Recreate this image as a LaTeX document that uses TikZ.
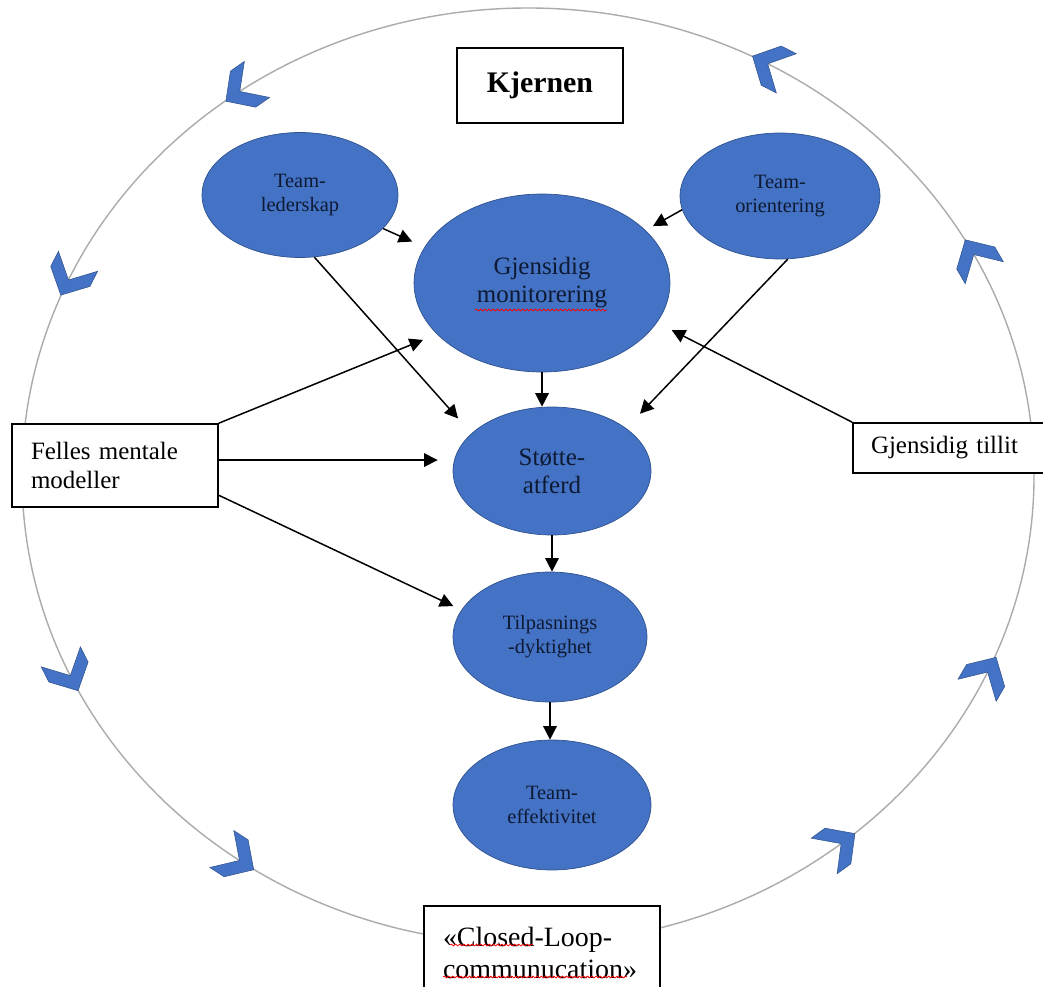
\documentclass[tikz,border=0pt]{standalone}
\usepackage{fontspec}
\setmainfont{Liberation Serif}
\usepackage{tikz}
\usetikzlibrary{shapes.geometric,arrows.meta,decorations.pathmorphing}
\definecolor{ofblue}{HTML}{4472C4}
\definecolor{ofdark}{HTML}{2F528F}
\definecolor{ringgray}{HTML}{ABABAB}
\definecolor{navy}{HTML}{0E1A33}

\begin{document}
\begin{tikzpicture}[x=0.02cm,y=0.02cm]
\tikzstyle{blob}=[ellipse,fill=ofblue,draw=ofdark,line width=0.4pt,inner sep=0pt,text=navy,align=center]
\tikzstyle{smalltext}=[font=\fontsize{11.6}{13.6}\selectfont]
\tikzstyle{bigtext}=[font=\fontsize{14.2}{15.9}\selectfont]
\tikzstyle{labelbox}=[rectangle,draw=black,fill=white,line width=0.9pt,align=left,font=\fontsize{14.2}{16.4}\selectfont]
\tikzstyle{link}=[-{Triangle[length=0.27cm,width=0.27cm]},line width=0.85pt]
\tikzstyle{chevron}=[fill=ofblue,draw=ofdark,line width=0.3pt]
\tikzstyle{spell}=[red,line width=0.45pt,decorate,decoration={snake,amplitude=0.5pt,segment length=2.4pt}]
    \path[use as bounding box] (0,0) rectangle (1043,-986);
    \clip (0,0) rectangle (1043,-986);
    % the loop round the core
    \coordinate (c) at (528,-476);
    \draw[ringgray,line width=0.8pt] (c) ellipse (506 and 468);
    \foreach \t/\r in {28/120,61.5/153,124.5/215,155/243,205/297,235/327,308/36,335/60}
        \filldraw[chevron,shift={(c)},shift={(\t:506 and 468)},rotate=\r] (-19,22) -- (-2,22) -- (19,0) -- (-2,-22) -- (-19,-22) -- (2,0) -- cycle;
    \node[labelbox,align=center,minimum width=3.32cm,minimum height=1.5cm,font=\fontsize{17}{20}\selectfont\bfseries] (kjernen) at (540,-85.5) {Kjernen};
    \node[blob,smalltext,minimum width=3.92cm,minimum height=2.5cm] (leder) at (300,-195) {Team-\\lederskap};
    \node[blob,bigtext,minimum width=5.12cm,minimum height=3.56cm] (monitor) at (542,-283) {Gjensidig\\monitorering};
    \node[blob,smalltext,minimum width=4cm,minimum height=2.52cm] (orient) at (780,-196) {Team-\\orientering};
    \node[blob,bigtext,minimum width=3.96cm,minimum height=2.56cm] (stotte) at (552,-471) {Støtte-\\atferd};
    \node[blob,smalltext,minimum width=3.88cm,minimum height=2.6cm] (tilpas) at (550,-637) {Tilpasnings\\-dyktighet};
    \node[blob,smalltext,minimum width=3.96cm,minimum height=2.6cm] (effekt) at (552,-805) {Team-\\effektivitet};
    \node[labelbox,text width=3.36cm,inner xsep=0.38cm,minimum height=1.66cm] (felles) at (115,-465.5) {Felles mentale\\modeller};
    \node[labelbox,text width=3.22cm,inner xsep=0.36cm,minimum height=1cm] (tillit) at (951.5,-448) {Gjensidig tillit};
    \node[labelbox,text width=3.96cm,inner xsep=0.38cm,minimum height=1.88cm,font=\fontsize{15.9}{18.1}\selectfont] (closed) at (542,-953) {«Closed-Loop-\\communucation»};
    % spelling marks
    \draw[spell] (475,-310) -- (607,-310);
    \draw[spell] (450,-945) -- (533,-945);
    \draw[spell] (443,-977) -- (627,-977);
    % arrows
    \draw[link,shorten >=0.27cm] (leder.-22) -- (monitor.163);
    \draw[link,shorten >=0.4cm] (leder.-77) -- (stotte.155);
    \draw[link,shorten >=0.17cm] (orient.188) -- (monitor.27);
    \draw[link,shorten >=0.4cm] (orient.-83) -- (stotte.30);
    \draw[link,shorten >=0.3cm] (felles.north east) -- (monitor.206);
    \draw[link,shorten >=0.3cm] (felles.3) -- (felles.3 -| stotte.west);
    \draw[link,shorten >=0.18cm] (felles.-16) -- (tilpas.163);
    \draw[link,shorten >=0.33cm] (tillit.north west) -- (monitor.-19);
    \draw[link] (monitor.south) -- (monitor.south |- stotte.north);
    \draw[link] (stotte.south) -- (stotte.south |- tilpas.north);
    \draw[link] (tilpas.south) -- (tilpas.south |- effekt.north);
\end{tikzpicture}
\end{document}
